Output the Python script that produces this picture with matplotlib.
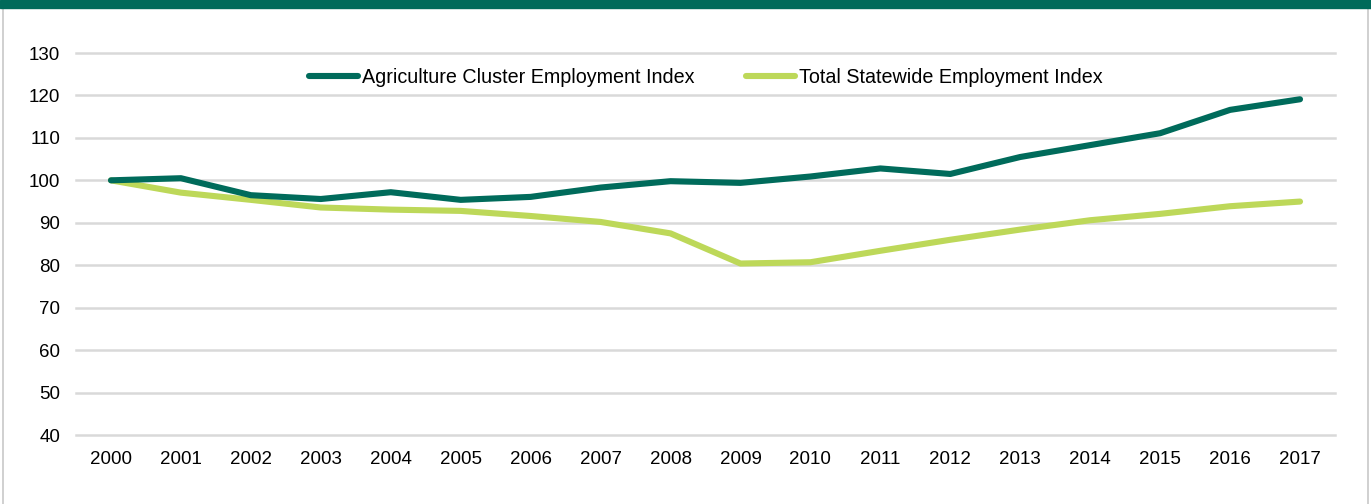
import matplotlib
matplotlib.use("Agg")
import matplotlib.pyplot as plt
from matplotlib.patches import Rectangle
from matplotlib.lines import Line2D

plt.rcParams["font.family"] = ["Liberation Sans", "DejaVu Sans"]

years = [str(y) for y in range(2000, 2018)]
agri_index = [100.0, 100.5, 96.5, 95.6, 97.2, 95.4, 96.1, 98.3, 99.8,
              99.4, 100.9, 102.8, 101.5, 105.5, 108.3, 111.1, 116.6, 119.1]
state_index = [100.0, 97.1, 95.4, 93.6, 93.1, 92.8, 91.6, 90.2, 87.5,
               80.4, 80.7, 83.4, 86.0, 88.4, 90.6, 92.1, 93.9, 95.0]
yticks = [40, 50, 60, 70, 80, 90, 100, 110, 120, 130]

DARK = "#006B5B"
LIGHT = "#BDD859"
GRID = "#D9D9D9"

fig = plt.figure(figsize=(13.71, 5.04), dpi=100)
ax = fig.add_axes([76/1371, 69/504, 1259/1371, 382/504])

x = list(range(len(years)))
ax.plot(x, agri_index, color=DARK, lw=4.4, solid_capstyle="round",
        solid_joinstyle="round", label="Agriculture Cluster Employment Index", zorder=3)
ax.plot(x, state_index, color=LIGHT, lw=4.4, solid_capstyle="round",
        solid_joinstyle="round", label="Total Statewide Employment Index", zorder=2)

ax.set_xlim(-0.5, len(years) - 0.5)
ax.set_ylim(40, 130)
ax.set_yticks(yticks)
ax.set_xticks(x)
ax.set_xticklabels(years)
for y in yticks:
    ax.axhline(y, color=GRID, lw=1.8, zorder=1, clip_on=False)
for s in ax.spines.values():
    s.set_visible(False)
ax.tick_params(length=0, labelsize=13.5, colors="#000000", pad=11.5)

ax.legend(loc="center", bbox_to_anchor=(0.5, 0.937), ncol=2, frameon=False,
          fontsize=14.2, handlelength=2.5, handletextpad=0.2, columnspacing=2.6)

# header band and thin frame
fig.patches.append(Rectangle((0, 1 - 7.5/504), 1, 7.5/504, transform=fig.transFigure,
                             color="#006A5A", zorder=5))
fig.lines.append(Line2D([3/1371, 3/1371], [0, 1 - 7.5/504], transform=fig.transFigure,
                        color="#C8C8C8", lw=1.2))
fig.lines.append(Line2D([1368/1371, 1368/1371], [0, 1 - 7.5/504], transform=fig.transFigure,
                        color="#C8C8C8", lw=1.2))

fig.savefig("out.png", dpi=100)
